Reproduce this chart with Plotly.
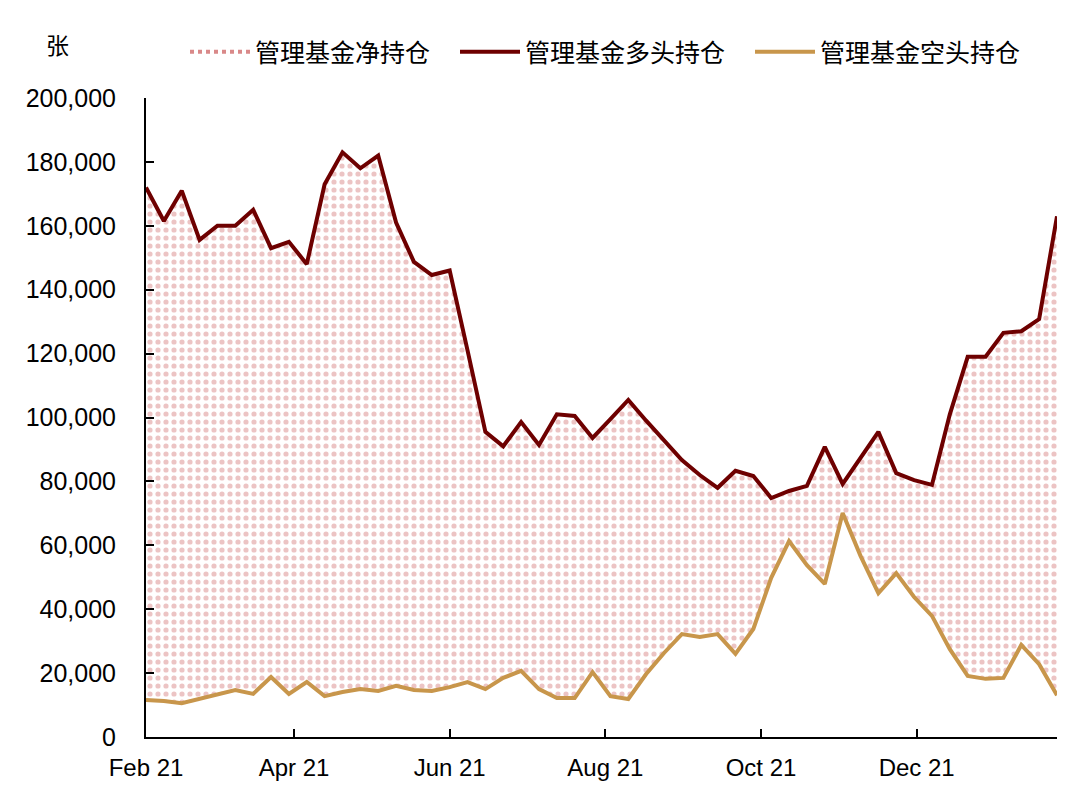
import pandas as pd
import plotly.graph_objects as go

dates = pd.date_range("2021-02-02", periods=52, freq="7D")

long_pos = [172000, 161500, 171000, 155600, 160000, 160000, 165000, 153000, 155000, 148000,
            173000, 183000, 178000, 182000, 161000, 148700, 144600, 146000, 121000, 95500,
            91000, 98600, 91400, 101000, 100500, 93600, 99500, 105500, 99000, 93000,
            86700, 82000, 78000, 83300, 81700, 74800, 77000, 78600, 90800, 79200,
            87300, 95500, 82600, 80400, 78900, 101000, 119000, 119000, 126500, 127000,
            130800, 163000]

short_pos = [11600, 11300, 10600, 11900, 13500, 14700, 13500, 18800, 13500, 17200,
             12800, 14100, 15000, 14400, 16000, 14700, 14400, 15600, 17200, 15000,
             18500, 20700, 15000, 12200, 12200, 20300, 12800, 11900, 19700, 26300,
             32200, 31300, 32200, 26000, 33800, 49800, 61300, 53800, 47900, 70100,
             56700, 45000, 51300, 43800, 37900, 27500, 19100, 18200, 18500, 28800,
             22800, 13100]

tick_vals = ["2021-02-02", "2021-04-01", "2021-06-01", "2021-08-01", "2021-10-01", "2021-12-01"]
tick_text = ["Feb 21", "Apr 21", "Jun 21", "Aug 21", "Oct 21", "Dec 21"]
y_ticks = [0, 20000, 40000, 60000, 80000, 100000, 120000, 140000, 160000, 180000, 200000]

FONT = "Liberation Sans, Arial, Noto Sans CJK SC"
LONG_C = "#6E0000"
SHORT_C = "#C8964B"
PINK = "#D98989"

W, H = 1072, 796

fig = go.Figure()
# base (short) for the net-position band
fig.add_trace(go.Scatter(x=dates, y=short_pos, mode="lines", line=dict(width=0, color="rgba(0,0,0,0)"),
                         showlegend=False, hoverinfo="skip"))
# net position band between short and long
fig.add_trace(go.Scatter(x=dates, y=long_pos, mode="lines", name="管理基金净持仓",
                         line=dict(width=0, color="rgba(0,0,0,0)"), fill="tonexty",
                         fillpattern=dict(shape=".", fgcolor=PINK, bgcolor="white", size=8, solidity=0.33),
                         showlegend=False, hoverinfo="skip"))
# legend entry for the band
fig.add_trace(go.Scatter(x=[None], y=[None], mode="lines", name="管理基金净持仓",
                         line=dict(width=4, color=PINK, dash="dot"), legend="legend"))
fig.add_trace(go.Scatter(x=dates, y=long_pos, mode="lines", name="管理基金多头持仓",
                         line=dict(width=4, color=LONG_C), legend="legend2"))
fig.add_trace(go.Scatter(x=dates, y=short_pos, mode="lines", name="管理基金空头持仓",
                         line=dict(width=4, color=SHORT_C), legend="legend3"))

def leg(xpix):
    return dict(orientation="h", xref="container", yref="container",
                x=(xpix - 8) / W, xanchor="left", y=1 - 44 / H, yanchor="middle",
                font=dict(size=25, family=FONT), itemwidth=60, bgcolor="rgba(0,0,0,0)")

fig.update_layout(
    width=W, height=H,
    margin=dict(l=138, r=23, t=90, b=67, autoexpand=False),
    paper_bgcolor="white", plot_bgcolor="white",
    font=dict(family=FONT, size=24, color="black"),
    legend=leg(185), legend2=leg(455), legend3=leg(750),
    showlegend=True,
)
fig.update_xaxes(range=["2021-02-02", "2022-01-25"], tickvals=tick_vals, ticktext=tick_text,
                 showgrid=False, zeroline=False, showline=True, linecolor="black", linewidth=2,
                 ticks="inside", ticklen=8, tickwidth=2, tickcolor="black", automargin=False,
                 tickfont=dict(size=24, family=FONT), ticklabelstandoff=8)
fig.update_yaxes(range=[0, 200000], tickvals=y_ticks, tickformat=",d",
                 showgrid=False, zeroline=False, showline=True, linecolor="black", linewidth=2,
                 ticks="inside", ticklen=8, tickwidth=2, tickcolor="black", automargin=False,
                 tickfont=dict(size=25, family=FONT), ticklabelstandoff=23)
fig.add_annotation(text="张", xref="paper", yref="paper", x=-0.0966, y=1.081,
                   xanchor="center", yanchor="middle", showarrow=False,
                   font=dict(size=23, family=FONT))

fig.write_html("out.html")
